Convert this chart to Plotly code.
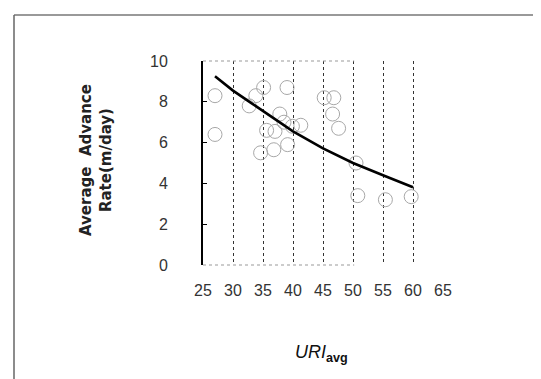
import plotly.graph_objects as go

uri_avg = [27.0, 27.0, 35.1, 33.8, 32.7, 39.0, 45.2, 46.8, 46.6, 47.6,
           37.8, 38.5, 39.9, 41.3, 35.6, 37.0, 39.1, 36.8, 34.6, 50.5,
           50.8, 55.4, 59.7]
advance_rate = [8.3, 6.4, 8.7, 8.3, 7.8, 8.7, 8.2, 8.2, 7.4, 6.7,
                7.4, 7.0, 6.8, 6.85, 6.6, 6.55, 5.9, 5.65, 5.5, 5.0,
                3.4, 3.2, 3.35]

# Fitted trend curve
trend_x = [27.0, 30.0, 33.0, 36.0, 40.0, 45.0, 50.0, 55.0, 60.0]
trend_y = [9.25, 8.55, 7.95, 7.35, 6.55, 5.72, 5.0, 4.40, 3.81]

x_ticks = [25, 30, 35, 40, 45, 50, 55, 60, 65]
y_ticks = [0, 2, 4, 6, 8, 10]

W, H = 541, 379
L, R, T, B = 195, 435, 53, 257

fig = go.Figure()
fig.add_trace(go.Scatter(
    x=uri_avg, y=advance_rate, mode="markers",
    marker=dict(symbol="circle-open", size=14, color="#a8a8a8", line=dict(width=1)),
    showlegend=False, cliponaxis=False))
fig.add_trace(go.Scatter(
    x=trend_x, y=trend_y, mode="lines", line=dict(color="black", width=2.6),
    showlegend=False))

font_main = "Liberation Sans, Arial, sans-serif"
fig.update_layout(
    width=W, height=H,
    margin=dict(l=L, r=W - R, t=T, b=H - B, pad=0),
    paper_bgcolor="white", plot_bgcolor="white",
    xaxis=dict(range=[25, 65], tickvals=x_ticks, ticktext=[str(v) for v in x_ticks],
               showgrid=True, gridcolor="#333", griddash="dot", gridwidth=1,
               zeroline=False, showline=False, ticks="",
               tickfont=dict(family=font_main, size=16, color="#333"),
               ticklabelstandoff=14),
    yaxis=dict(range=[0, 10], tickvals=y_ticks, showgrid=False, zeroline=False,
               showline=True, linecolor="black", linewidth=2,
               ticks="inside", ticklen=4, tickcolor="black",
               tickfont=dict(family=font_main, size=16, color="#333"),
               ticklabelstandoff=30),
    font=dict(family=font_main),
)

# plot top and bottom dotted borders
fig.add_shape(type="line", xref="paper", yref="paper", x0=0, x1=0.63, y0=1, y1=1,
              line=dict(color="#999", width=1, dash="dot"))
fig.add_shape(type="line", xref="paper", yref="paper", x0=0, x1=0.63, y0=0, y1=0,
              line=dict(color="#999", width=1, dash="dot"))

# outer frame (top and left)
x_left = (6 - L) / (R - L)
y_top = (B - 7) / (B - T)
y_bot = (B - H) / (B - T)
fig.add_shape(type="line", xref="paper", yref="paper", x0=x_left, x1=(W - L) / (R - L),
              y0=y_top, y1=y_top, line=dict(color="#777", width=1.5))
fig.add_shape(type="line", xref="paper", yref="paper", x0=x_left, x1=x_left,
              y0=y_top, y1=y_bot, line=dict(color="#666", width=1.5))

# axis titles
fig.add_annotation(xref="paper", yref="paper", x=(88 - L) / (R - L), y=(B - 152) / (B - T),
                   text="<b>Average  Advance<br>Rate(m/day)</b>", textangle=-90,
                   showarrow=False,
                   font=dict(family="DejaVu Sans, sans-serif", size=15, color="#222"),
                   xanchor="center", yanchor="middle")
fig.add_annotation(xref="paper", yref="paper", x=(313 - L) / (R - L), y=(B - 345) / (B - T),
                   text="<i>URI</i><sub><b>avg</b></sub>", showarrow=False,
                   font=dict(family=font_main, size=18, color="#111"),
                   xanchor="center", yanchor="middle")

fig.write_html("out.html")
